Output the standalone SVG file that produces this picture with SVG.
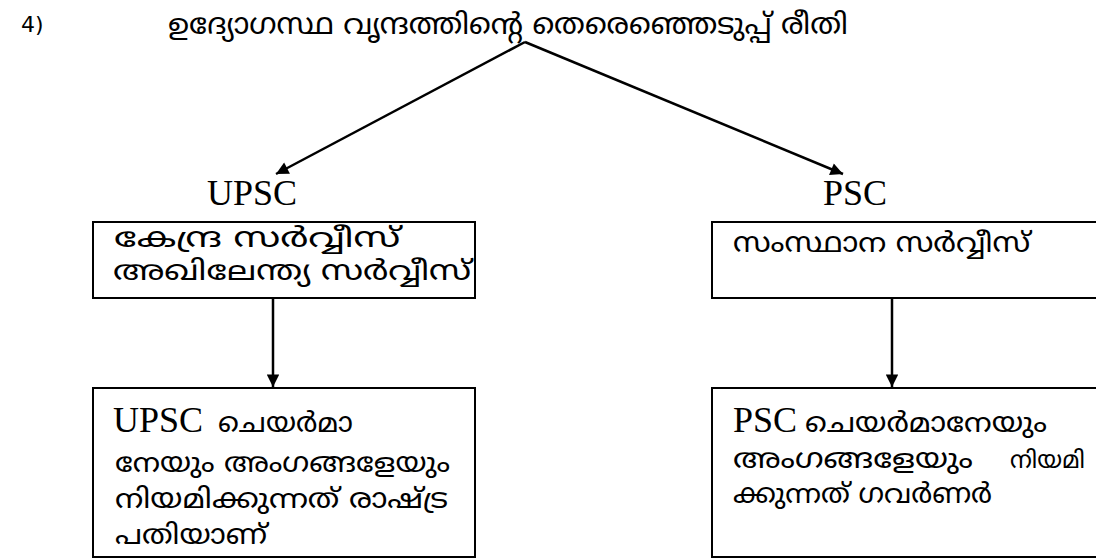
<svg xmlns="http://www.w3.org/2000/svg" width="1096" height="558" viewBox="0 0 1096 558">
<style>
.ml{font-family:"Noto Sans Malayalam","Noto Sans","DejaVu Sans",sans-serif;font-size:27px;fill:#000}
.tt{font-size:29px}
.sm{font-size:24px}
.lat{font-family:"Liberation Serif","Times New Roman",serif;font-size:36px;fill:#000}
.num{font-family:"DejaVu Sans",sans-serif;font-size:22px;fill:#000}
.box{fill:#fff;stroke:#000;stroke-width:2}
.con{stroke:#000;stroke-width:2.5;fill:none}
</style>
<defs>
<marker id="ah" viewBox="0 0 10 10" refX="10" refY="5" markerWidth="6" markerHeight="5" markerUnits="strokeWidth" orient="auto">
<path d="M0,0 L10,5 L0,10 z" fill="#000"/>
</marker>
</defs>
<rect width="1096" height="558" fill="#fff"/>
<g id="title">
<text class="num" x="21" y="32">4)</text>
<text class="ml tt" x="168" y="34" textLength="680" lengthAdjust="spacingAndGlyphs">ഉദ്യോഗസ്ഥ വൃന്ദത്തിന്റെ തെരെഞ്ഞെടുപ്പ് രീതി</text>
</g>
<g id="connectors">
<line class="con" x1="525" y1="42" x2="276" y2="174" marker-end="url(#ah)"/>
<line class="con" x1="525" y1="42" x2="843" y2="174" marker-end="url(#ah)"/>
<line class="con" x1="273" y1="298" x2="273" y2="387" marker-end="url(#ah)"/>
<line class="con" x1="892" y1="298" x2="892" y2="387" marker-end="url(#ah)"/>
</g>
<g id="upsc-label"><text class="lat" x="207" y="205">UPSC</text></g>
<g id="psc-label"><text class="lat" x="823" y="205">PSC</text></g>
<g id="upsc-services">
<rect class="box" x="93" y="222" width="382" height="76"/>
<text class="ml" x="114" y="247" textLength="286" lengthAdjust="spacingAndGlyphs">കേന്ദ്ര സർവ്വീസ്</text>
<text class="ml" x="113" y="280" textLength="358" lengthAdjust="spacingAndGlyphs">അഖിലേന്ത്യ സർവ്വീസ്</text>
</g>
<g id="psc-services">
<rect class="box" x="712" y="222" width="400" height="76"/>
<text class="ml" x="733" y="252" textLength="297" lengthAdjust="spacingAndGlyphs">സംസ്ഥാന സർവ്വീസ്</text>
</g>
<g id="upsc-appoint">
<rect class="box" x="93" y="388" width="382" height="169"/>
<text class="lat" x="113" y="432">UPSC</text>
<text class="ml" x="218" y="432" textLength="135" lengthAdjust="spacingAndGlyphs">ചെയർമാ</text>
<text class="ml" x="115" y="472" textLength="335" lengthAdjust="spacingAndGlyphs">നേയും അംഗങ്ങളേയും</text>
<text class="ml" x="115" y="508" textLength="333" lengthAdjust="spacingAndGlyphs">നിയമിക്കുന്നത് രാഷ്ട്ര</text>
<text class="ml" x="115" y="544" textLength="152" lengthAdjust="spacingAndGlyphs">പതിയാണ്</text>
</g>
<g id="psc-appoint">
<rect class="box" x="712" y="388" width="400" height="169"/>
<text class="lat" x="733" y="432">PSC</text>
<text class="ml" x="805" y="432" textLength="242" lengthAdjust="spacingAndGlyphs">ചെയർമാനേയും</text>
<text class="ml" x="733" y="468" textLength="240" lengthAdjust="spacingAndGlyphs">അംഗങ്ങളേയും</text>
<text class="ml sm" x="1010" y="468">നിയമി</text>
<text class="ml" x="733" y="503" textLength="259" lengthAdjust="spacingAndGlyphs">ക്കുന്നത് ഗവർണർ</text>
</g>
</svg>
